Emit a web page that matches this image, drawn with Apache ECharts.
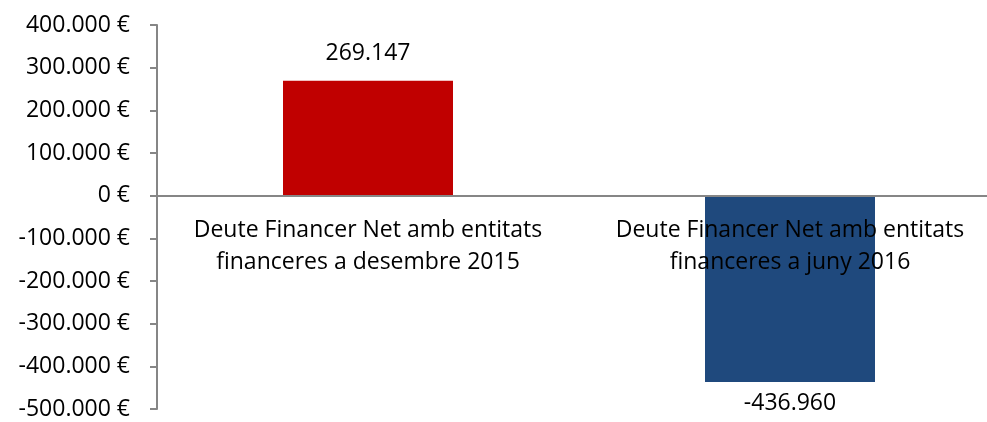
<!DOCTYPE html>
<html>
<head>
<meta charset="utf-8">
<script src="https://cdn.jsdelivr.net/npm/echarts@6/dist/echarts.min.js"></script>
<style>
  html, body { margin: 0; padding: 0; background: #fff; }
  #chart { width: 987px; height: 422px; }
</style>
</head>
<body>
<div id="chart"></div>
<script>
// dades del gràfic
var categories = [
    'Deute Financer Net amb entitats\nfinanceres a desembre 2015',
    'Deute Financer Net amb entitats\nfinanceres a juny 2016'
];
var values = [269147, -436960];
var barColors = ['#C00000', '#1F497D'];
var yTicks = [-500000, -400000, -300000, -200000, -100000, 0, 100000, 200000, 300000, 400000];

// format amb punt de milers
function fmt(v) {
    var neg = v < 0;
    var s = String(Math.abs(Math.round(v)));
    s = s.replace(/\B(?=(\d{3})+(?!\d))/g, '.');
    return (neg ? '-' : '') + s;
}

window.onload = function () {
    var font = 'Open Sans';
    var option = {
        backgroundColor: '#fff',
        animation: false,
        grid: {
            left: 157,
            top: 25,
            bottom: 13,
            width: 844,
            outerBoundsMode: 'none',
            containLabel: false
        },
        xAxis: {
            type: 'category',
            data: categories,
            z: 5,
            offset: -213,  // eix a l'alçada del zero
            axisLine: { onZero: false, lineStyle: { color: '#868686', width: 2 } },
            axisTick: { length: 7, lineStyle: { color: '#868686', width: 2 } },
            axisLabel: {
                color: '#000',
                fontFamily: font,
                fontSize: 23,
                lineHeight: 32,
                margin: 18,
                interval: 0
            }
        },
        yAxis: {
            type: 'value',
            min: yTicks[0],
            max: yTicks[yTicks.length - 1],
            interval: 100000,
            splitLine: { show: false },
            axisLine: { show: true, lineStyle: { color: '#868686', width: 2 } },
            axisTick: { show: true, length: 7, lineStyle: { color: '#868686', width: 2 } },
            axisLabel: {
                color: '#000',
                fontFamily: font,
                fontSize: 23,
                margin: 27,
                formatter: function (v) { return fmt(v) + ' €'; }
            }
        },
        series: [{
            type: 'bar',
            barWidth: 170,
            data: values.map(function (v, i) {
                return {
                    value: v,
                    itemStyle: { color: barColors[i] },
                    label: { position: v < 0 ? 'bottom' : 'top', distance: v < 0 ? 10 : 16 }
                };
            }),
            label: {
                show: true,
                color: '#000',
                fontFamily: font,
                fontSize: 23,
                formatter: function (p) { return fmt(p.value); }
            }
        }]
    };
    var myChart = echarts.init(document.getElementById('chart'));
    myChart.setOption(option);
};
</script>
</body>
</html>
